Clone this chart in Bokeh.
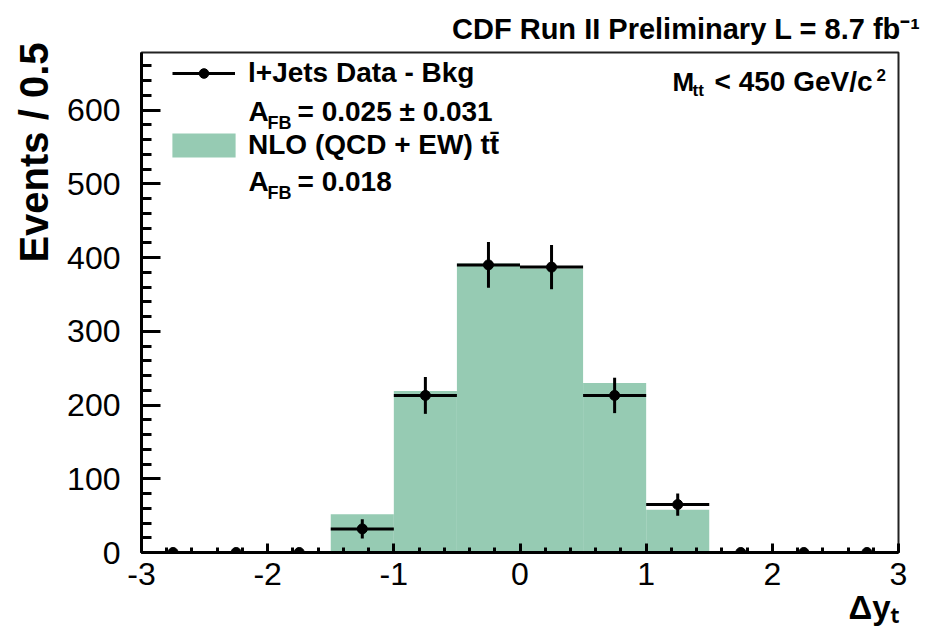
import numpy as np
from bokeh.plotting import figure
from bokeh.models import (ColumnDataSource, FixedTicker, Label, Legend, LegendItem,
                          Range1d, Title)
from bokeh.embed import file_html
from bokeh.resources import INLINE

# ---------------- data ----------------
bin_lefts = [-3.0, -2.5, -2.0, -1.5, -1.0, -0.5, 0.0, 0.5, 1.0, 1.5, 2.0, 2.5]
bin_rights = [-2.5, -2.0, -1.5, -1.0, -0.5, 0.0, 0.5, 1.0, 1.5, 2.0, 2.5, 3.0]
nlo_counts = [0, 0, 0, 52, 219, 392, 385, 230, 58, 0, 0, 0]
data_counts = [0, 0, 0, 32, 213, 390, 387, 213, 65, 0, 0, 0]
data_errors = [0, 0, 0, 13, 25, 31, 30, 24, 15, 0, 0, 0]

x_tick_values = [-3, -2, -1, 0, 1, 2, 3]
x_tick_labels = ["-3", "-2", "-1", "0", "1", "2", "3"]
x_minor_ticks = [-3.0, -2.8, -2.6, -2.4, -2.2, -2.0, -1.8, -1.6, -1.4, -1.2, -1.0,
                 -0.8, -0.6, -0.4, -0.2, 0.0, 0.2, 0.4, 0.6, 0.8, 1.0, 1.2, 1.4,
                 1.6, 1.8, 2.0, 2.2, 2.4, 2.6, 2.8, 3.0]
y_tick_values = [0, 100, 200, 300, 400, 500, 600]
y_tick_labels = ["0", "100", "200", "300", "400", "500", "600"]
y_minor_ticks = [0, 20, 40, 60, 80, 100, 120, 140, 160, 180, 200, 220, 240, 260, 280,
                 300, 320, 340, 360, 380, 400, 420, 440, 460, 480, 500, 520, 540,
                 560, 580, 600, 620, 640, 660]

header_text = "CDF Run II Preliminary L = 8.7 fb\u207b\u00b9"
y_title = "Events / 0.5"
x_title = "\u0394y\u209c"
data_label = "l+Jets Data - Bkg"
nlo_label = "NLO (QCD + EW) tt\u0304"

FONT = "Liberation Sans"
FILL = "#96cbb3"

lefts = np.array(bin_lefts)
rights = np.array(bin_rights)
centers = (lefts + rights) / 2
vals = np.array(data_counts, dtype=float)
errs = np.array(data_errors, dtype=float)

hist_src = ColumnDataSource(dict(left=lefts, right=rights, top=nlo_counts,
                                 bottom=np.zeros(len(lefts))))
pts_src = ColumnDataSource(dict(x=centers, y=vals, left=lefts, right=rights,
                                lo=vals - errs, hi=vals + errs))

p = figure(width=930, height=642, output_backend="svg", toolbar_location=None,
           title=header_text,
           x_range=Range1d(-3, 3), y_range=Range1d(0, 678),
           min_border_left=141, min_border_right=32, min_border_top=52,
           min_border_bottom=90)
p.background_fill_color = "white"
p.border_fill_color = "white"
p.outline_line_color = "#222222"
p.outline_line_width = 2
p.grid.visible = False

# header as the figure title, right aligned
p.title.align = "right"
p.title.offset = -22
p.title.standoff = 16
p.title.vertical_align = "bottom"
p.title.text_font = FONT
p.title.text_font_size = "29px"
p.title.text_font_style = "bold"
p.title.text_color = "black"

quad_r = p.quad(left="left", right="right", top="top", bottom="bottom",
                source=hist_src, fill_color=FILL, line_color=None)
hseg_r = p.segment(x0="left", x1="right", y0="y", y1="y", source=pts_src,
                   line_color="black", line_width=3)
p.segment(x0="x", x1="x", y0="lo", y1="hi", source=pts_src,
          line_color="black", line_width=3)
sc_r = p.scatter(x="x", y="y", source=pts_src, size=10, marker="circle",
                 fill_color="black", line_color="black")

# axes
for ax in (p.xaxis[0], p.yaxis[0]):
    ax.axis_line_width = 3
    ax.axis_line_color = "black"
    ax.major_tick_line_width = 3
    ax.minor_tick_line_width = 3
    ax.major_tick_out = 0
    ax.minor_tick_out = 0
    ax.major_label_text_font = FONT
    ax.major_label_text_font_size = "32px"
    ax.major_label_text_color = "black"

p.xaxis.ticker = FixedTicker(ticks=x_tick_values, minor_ticks=x_minor_ticks)
p.xaxis.major_label_overrides = {v: s for v, s in zip(x_tick_values, x_tick_labels)}
p.xaxis.major_tick_in = 9
p.xaxis.minor_tick_in = 5
p.xaxis.major_label_standoff = 10

p.yaxis.ticker = FixedTicker(ticks=y_tick_values, minor_ticks=y_minor_ticks)
p.yaxis.major_label_overrides = {v: s for v, s in zip(y_tick_values, y_tick_labels)}
p.yaxis.major_tick_in = 19
p.yaxis.minor_tick_in = 10
p.yaxis.major_label_standoff = 21

# axis titles as side-panel titles (right aligned, ROOT style)
p.add_layout(Title(text=y_title, align="right", offset=-10, standoff=18,
                   vertical_align="bottom", text_font=FONT, text_font_size="40px",
                   text_font_style="bold", text_color="black"), "left")
p.add_layout(Title(text=x_title, align="right", offset=0, standoff=2,
                   vertical_align="top", text_font=FONT, text_font_size="33px",
                   text_font_style="bold", text_color="black"), "below")

# legends
leg_common = dict(padding=0, margin=0, border_line_color=None,
                  background_fill_alpha=0, label_text_font=FONT,
                  label_text_font_style="bold", label_text_font_size="28px",
                  label_text_color="black", label_text_baseline="middle")
leg1 = Legend(items=[LegendItem(label=data_label, renderers=[hseg_r, sc_r])],
              location=(31, 463), glyph_width=63, glyph_height=24, label_height=24,
              label_standoff=13, **leg_common)
leg2 = Legend(items=[LegendItem(label=nlo_label, renderers=[quad_r])],
              location=(23, 391), glyph_width=79, glyph_height=30, label_height=30,
              label_standoff=5, **leg_common)
p.add_layout(leg1, "center")
p.add_layout(leg2, "center")

FX0, FY0 = 141, 552  # frame bottom-left in canvas pixels


def lab(x, y, text, size, align="left"):
    # y is the vertical middle of the text in canvas pixels
    p.add_layout(Label(x=x - FX0, y=FY0 - y, x_units="screen", y_units="screen",
                       text=text, text_font=FONT, text_font_size=size,
                       text_font_style="bold", text_align=align,
                       text_baseline="middle", text_color="black"))


# A_FB lines
lab(248, 111, "A", "28px")
lab(267, 122, "FB", "18px")
lab(297, 111, "= 0.025 \u00b1 0.031", "28px")
lab(248, 181, "A", "28px")
lab(267, 192, "FB", "18px")
lab(297, 181, "= 0.018", "28px")

# M_tt
lab(672, 81, "M", "26px")
lab(692, 90, "tt", "17px")
lab(714, 81, "< 450 GeV/c", "28px")
lab(876, 74, "2", "17px")

open("out.html", "w").write(file_html(p, INLINE))
